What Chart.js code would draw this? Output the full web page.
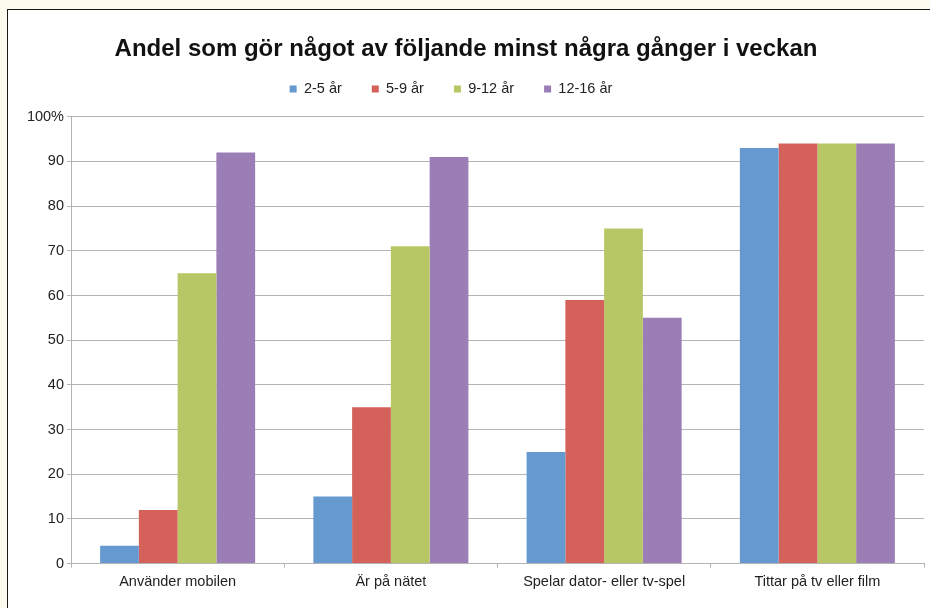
<!DOCTYPE html>
<html>
<head>
<meta charset="utf-8">
<script src="https://cdn.jsdelivr.net/npm/chart.js@4/dist/chart.umd.min.js"></script>
<style>
  html, body { margin: 0; padding: 0; }
  body { width: 930px; height: 608px; background: #fcfbef; position: relative; overflow: hidden; }
  .frame {
    position: absolute; left: 7px; top: 9px; right: 0; bottom: 0;
    background: #fff;
    border-left: 1.5px solid #1a1a1a;
    border-top: 1.5px solid #1a1a1a;
  }
  canvas { display: block; }
</style>
</head>
<body>
<div class="frame"><canvas id="chart" width="922" height="598"></canvas></div>
<script>
  const categories = ['Använder mobilen', 'Är på nätet', 'Spelar dator- eller tv-spel', 'Tittar på tv eller film'];
  const seriesNames = ['2-5 år', '5-9 år', '9-12 år', '12-16 år'];
  const age2to5 = [4, 15, 25, 93];
  const age5to9 = [12, 35, 59, 94];
  const age9to12 = [65, 71, 75, 94];
  const age12to16 = [92, 91, 55, 94];
  const yTicks = [0, 10, 20, 30, 40, 50, 60, 70, 80, 90, 100];

  const colors = ['#6599d0', '#d4625b', '#b8c765', '#9b7eb6'];
  const gridColor = '#b4b4b4';
  const textColor = '#222';
  const font = { family: '"Liberation Sans", Arial, Helvetica, sans-serif', size: 14.5 };

  // the legend needs wide horizontal spacing but little height,
  // and sits a bit left of centre in the original
  const legendTweak = {
    id: 'legendTweak',
    afterInit(chart) {
      const legend = chart.legend;
      const fit = legend.fit;
      legend.fit = function () {
        fit.call(this);
        this.height = 65;
      };
    },
    afterLayout(chart) {
      chart.legend.left -= 15;
      chart.legend.right -= 15;
    },
  };

  const series = [age2to5, age5to9, age9to12, age12to16];

  new Chart(document.getElementById('chart'), {
    type: 'bar',
    data: {
      labels: categories,
      datasets: series.map((values, i) => ({
        label: seriesNames[i],
        data: values,
        backgroundColor: colors[i],
        borderWidth: 0,
        categoryPercentage: 0.727,
        barPercentage: 1,
      })),
    },
    plugins: [legendTweak],
    options: {
      responsive: false,
      animation: false,
      devicePixelRatio: 1,
      layout: { padding: { left: 0, right: 6, top: 0, bottom: 11 } },
      plugins: {
        title: {
          display: true,
          text: 'Andel som gör något av följande minst några gånger i veckan',
          color: '#111',
          font: { family: font.family, size: 24, weight: 'bold' },
          padding: { top: 25, bottom: -12 },
        },
        legend: {
          position: 'top',
          labels: {
            boxWidth: 7,
            boxHeight: 7,
            padding: 30,
            color: textColor,
            font: font,
          },
        },
        tooltip: { enabled: false },
      },
      scales: {
        x: {
          grid: {
            drawOnChartArea: false,
            drawTicks: true,
            tickLength: 4,
            color: gridColor,
            offset: true,
          },
          border: { color: gridColor },
          ticks: { color: textColor, font: font, padding: 6, maxRotation: 0 },
        },
        y: {
          min: 0,
          max: 100,
          afterFit: (scale) => { scale.width = 63; },
          afterBuildTicks: (scale) => { scale.ticks = yTicks.map((v) => ({ value: v })); },
          grid: { color: gridColor, tickLength: 4 },
          border: { color: gridColor },
          ticks: {
            color: textColor,
            font: font,
            padding: 3,
            callback: (value) => (value === 100 ? '100%' : value),
          },
        },
      },
    },
  });
</script>
</body>
</html>
